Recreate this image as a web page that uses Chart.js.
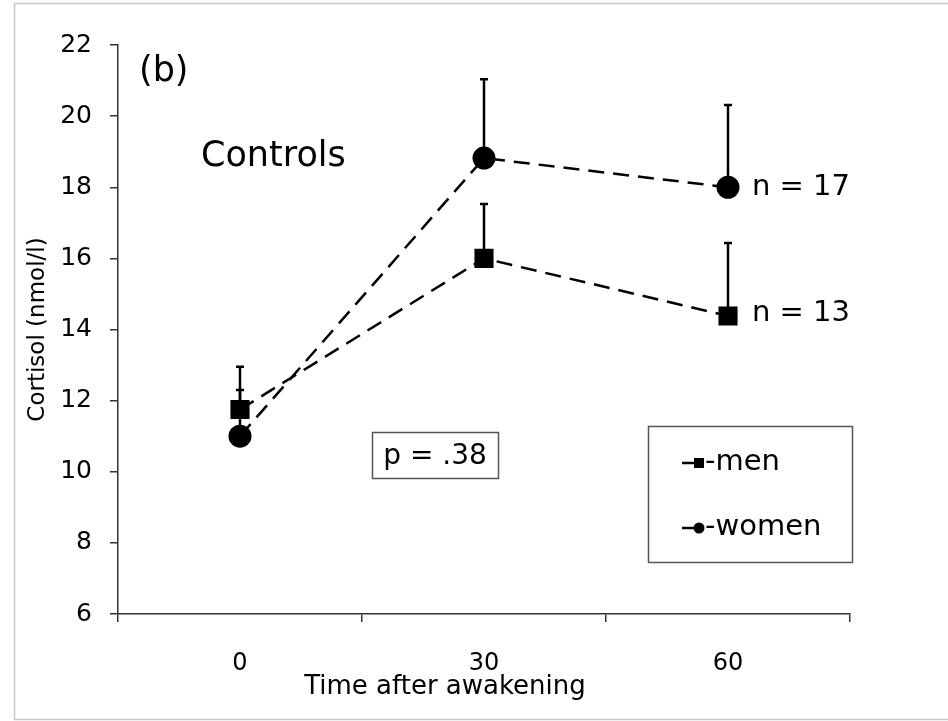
<!DOCTYPE html>
<html>
<head>
<meta charset="utf-8">
<script src="https://cdn.jsdelivr.net/npm/chart.js@4.4.0/dist/chart.umd.min.js"></script>
<style>
  body { margin: 0; background: #fff; }
  canvas { display: block; }
</style>
</head>
<body>
<canvas id="cortisolChart" width="948" height="721"></canvas>
<script>
// Cortisol awakening response - controls panel (b)

// Data
const timeLabels = ['0', '30', '60'];
const menMean = [11.75, 16.0, 14.38];
const menUpper = [12.3, 17.53, 16.43];
const womenMean = [11.0, 18.82, 18.0];
const womenUpper = [12.95, 21.04, 20.31];
const yTicks = [6, 8, 10, 12, 14, 16, 18, 20, 22];

const FONT = 'DejaVu Sans, Verdana, sans-serif';
const INK = '#000';

// Upward-only error bars, drawn under the markers
const errorBars = {
    id: 'errorBars',
    beforeDatasetsDraw(chart) {
        const ctx = chart.ctx;
        const yScale = chart.scales.y;
        const uppers = [menUpper, womenUpper];
        ctx.save();
        ctx.strokeStyle = INK;
        ctx.lineWidth = 2.5;
        uppers.forEach(function(upper, i) {
            const meta = chart.getDatasetMeta(i);
            meta.data.forEach(function(pt, j) {
                const yTop = yScale.getPixelForValue(upper[j]);
                ctx.beginPath();
                ctx.moveTo(pt.x, pt.y);
                ctx.lineTo(pt.x, yTop);
                ctx.moveTo(pt.x - 4, yTop);
                ctx.lineTo(pt.x + 4, yTop);
                ctx.stroke();
            });
        });
        ctx.restore();
    }
};

// Frame, labels, p-value box and legend box
const annotations = {
    id: 'annotations',
    beforeDraw(chart) {
        const ctx = chart.ctx;
        ctx.save();
        ctx.strokeStyle = '#c8c8c8';
        ctx.lineWidth = 1.5;
        ctx.strokeRect(14.5, 3.5, 1000, 716);
        ctx.restore();
    },
    afterDraw(chart) {
        const ctx = chart.ctx;
        ctx.save();
        ctx.fillStyle = INK;
        ctx.textBaseline = 'middle';
        ctx.textAlign = 'left';

        ctx.font = '35px ' + FONT;
        ctx.fillText('(b)', 139, 72);
        ctx.fillText('Controls', 201, 157);

        ctx.font = '29px ' + FONT;
        ctx.fillText('n = 17', 752, 187);
        ctx.fillText('n = 13', 752, 313);

        // x axis title, sits left of the plot centre in the original
        ctx.font = '26px ' + FONT;
        ctx.textAlign = 'center';
        ctx.fillText('Time after awakening', 445, 687);

        // p value box
        ctx.strokeStyle = '#555';
        ctx.lineWidth = 1.5;
        ctx.strokeRect(372.5, 432.5, 126, 46);
        ctx.font = '28px ' + FONT;
        ctx.fillText('p = .38', 435, 457);

        // legend box
        ctx.strokeRect(648.5, 426.5, 204, 136);
        ctx.textAlign = 'left';
        ctx.font = '29px ' + FONT;
        ctx.strokeStyle = INK;
        ctx.lineWidth = 2.5;

        ctx.beginPath();
        ctx.moveTo(682, 463);
        ctx.lineTo(696, 463);
        ctx.stroke();
        ctx.fillRect(694, 458, 10, 10);
        ctx.fillText('-men', 705, 462);

        ctx.beginPath();
        ctx.moveTo(682, 528);
        ctx.lineTo(696, 528);
        ctx.stroke();
        ctx.beginPath();
        ctx.arc(699, 528, 5.5, 0, Math.PI * 2);
        ctx.fill();
        ctx.fillText('-women', 705, 527);

        ctx.restore();
    }
};

const ctx = document.getElementById('cortisolChart').getContext('2d');

new Chart(ctx, {
    type: 'line',
    data: {
        labels: timeLabels,
        datasets: [
            {
                label: 'men',
                data: menMean,
                borderColor: INK,
                borderWidth: 2.5,
                borderDash: [16, 9],
                pointStyle: 'rect',
                pointRadius: 13.5,
                pointBackgroundColor: INK,
                pointBorderColor: INK,
                pointBorderWidth: 0,
                fill: false,
                tension: 0
            },
            {
                label: 'women',
                data: womenMean,
                borderColor: INK,
                borderWidth: 2.5,
                borderDash: [16, 9],
                pointStyle: 'circle',
                pointRadius: 11.5,
                pointBackgroundColor: INK,
                pointBorderColor: INK,
                pointBorderWidth: 0,
                fill: false,
                tension: 0
            }
        ]
    },
    options: {
        responsive: false,
        animation: false,
        layout: {
            padding: { top: 45, right: 98, left: 0, bottom: 0 }
        },
        plugins: {
            legend: { display: false },
            tooltip: { enabled: false }
        },
        scales: {
            x: {
                type: 'category',
                offset: true,
                afterFit: function(s) { s.height = 107; },
                grid: {
                    offset: true,
                    drawOnChartArea: false,
                    drawTicks: true,
                    tickLength: 8,
                    color: '#333',
                    lineWidth: 1.5
                },
                border: { color: '#333', width: 1.5 },
                ticks: {
                    color: INK,
                    padding: 27,
                    font: { family: FONT, size: 24 }
                }
            },
            y: {
                min: 6,
                max: 22,
                afterFit: function(s) { s.width = 118; },
                afterBuildTicks: function(s) {
                    s.ticks = yTicks.map(function(v) { return { value: v }; });
                },
                grid: {
                    drawOnChartArea: false,
                    drawTicks: true,
                    tickLength: 8,
                    color: '#333',
                    lineWidth: 1.5
                },
                border: { color: '#333', width: 1.5 },
                ticks: {
                    color: INK,
                    padding: 18,
                    font: { family: FONT, size: 25 }
                },
                title: {
                    display: true,
                    text: 'Cortisol (nmol/l)',
                    color: INK,
                    padding: { top: 24, bottom: 0 },
                    font: { family: FONT, size: 23 }
                }
            }
        }
    },
    plugins: [errorBars, annotations]
});
</script>
</body>
</html>
